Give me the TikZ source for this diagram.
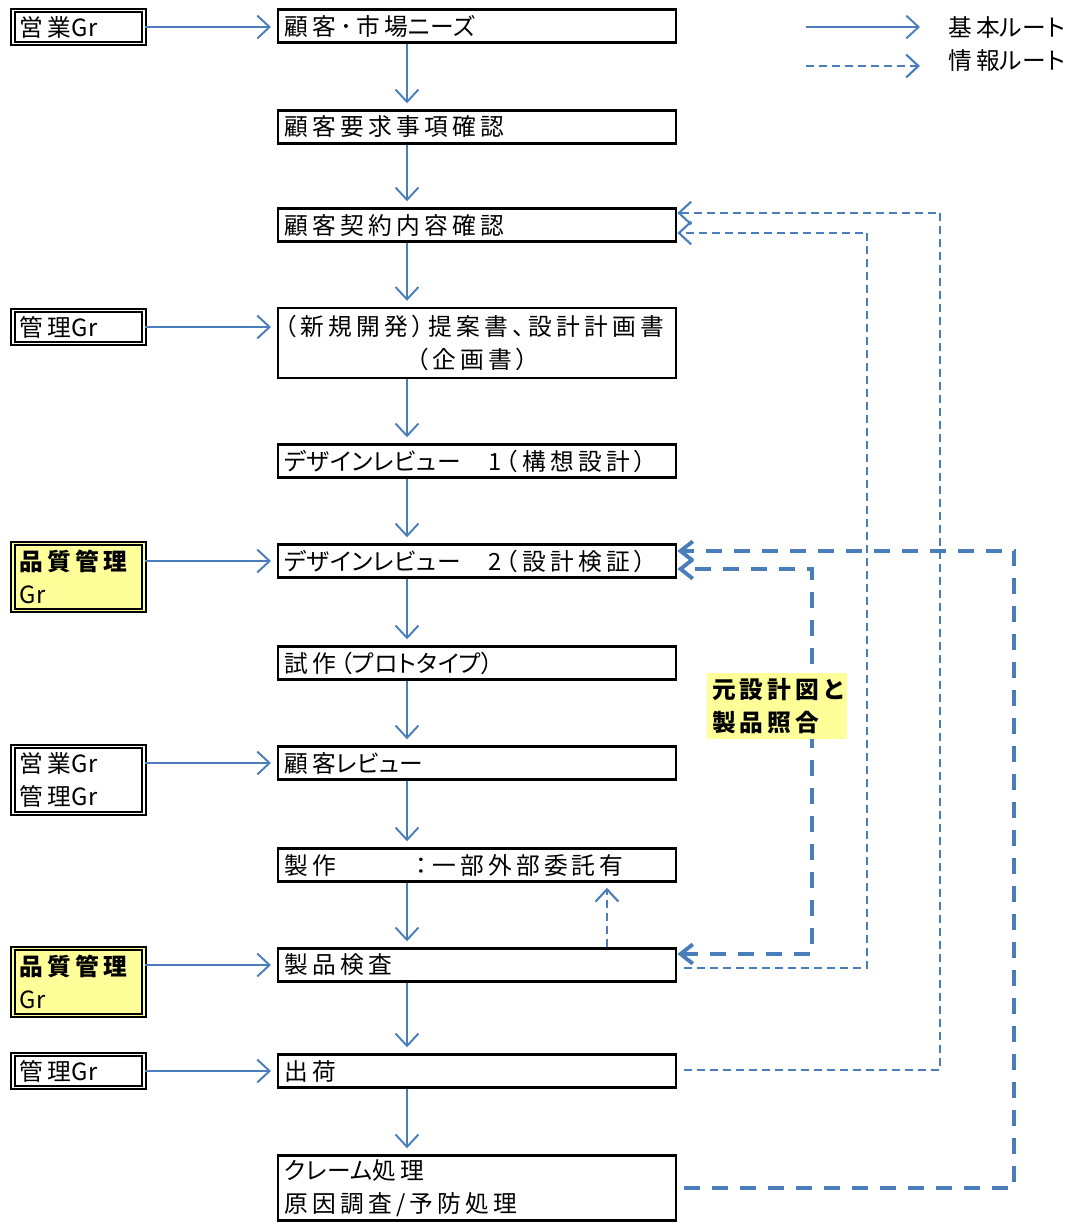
\documentclass[tikz,border=0pt]{standalone}
\usepackage{fontspec}
\setmainfont{Noto Sans CJK JP}[LetterSpace=18,RawFeature=+palt]
\usetikzlibrary{arrows.meta,calc,positioning}
\definecolor{routeblue}{RGB}{74,126,187}
\definecolor{gryellow}{RGB}{255,255,153}
\newcommand\tightjp[1]{{\addfontfeature{LetterSpace=2}#1}}

\begin{document}
\begin{tikzpicture}[
  x=0.02cm, y=-0.02cm,
  font=\fontsize{13.5}{18.5}\selectfont,
  flowbox/.style={draw, line width=1.4pt, anchor=west, text width=7.72cm, minimum height=0.66cm, inner xsep=0.12cm, inner ysep=1pt, align=left},
  grbox/.style={draw, line width=1.1pt, double=white, double distance=1.1pt, anchor=west, text width=2.34cm, minimum height=0.66cm, inner xsep=0.14cm, inner ysep=1pt, align=left},
  qabox/.style={grbox, fill=gryellow, double=gryellow, minimum height=1.34cm},
  arr/.style={draw=routeblue, line width=1.1pt, shorten >=0.12cm, -{Straight Barb[length=7pt,width=13pt]}},
  infoarr/.style={draw=routeblue, line width=1.2pt, dash pattern=on 0.16cm off 0.1cm, -{Straight Barb[length=7pt,width=13pt]}},
  bigarr/.style={draw=routeblue, line width=2.2pt, dash pattern=on 0.32cm off 0.24cm, -{Straight Barb[length=7pt,width=11pt]}},
  note/.style={fill=gryellow, font=\fontsize{13.5}{18.5}\selectfont\bfseries, text width=2.6cm, align=left, inner sep=3pt}
]
\useasboundingbox (0,0) rectangle (1082,1225);

% main flow
\node[flowbox] (needs) at (277,26) {顧客･市場\tightjp{ニーズ}};
\node[flowbox] (req) at (277,127) {顧客要求事項確認};
\node[flowbox] (contract) at (277,225) {顧客契約内容確認};
\node[flowbox, minimum height=1.4cm] (plan) at (277,343) {（新規開発）提案書、設計計画書\\\makebox[\linewidth]{（企画書）\hspace*{0.2cm}}};
\node[flowbox] (dr1) at (277,461) {\tightjp{デザインレビュー}　1（構想設計）};
\node[flowbox] (dr2) at (277,561) {\tightjp{デザインレビュー}　2（設計検証）};
\node[flowbox] (proto) at (277,663) {試作（\tightjp{プロトタイプ}）};
\node[flowbox] (review) at (277,763) {顧客\tightjp{レビュー}};
\node[flowbox] (make) at (277,865) {製作\hspace*{1.6cm}：一部外部委託有};
\node[flowbox] (insp) at (277,965) {製品検査};
\node[flowbox] (ship) at (277,1071) {出荷};
\node[flowbox, minimum height=1.3cm] (claim) at (277,1188) {\tightjp{クレーム}処理\\原因調査/予防処理};

% groups
\node[grbox] (sales) at (12,27) {営業\tightjp{Gr}};
\node[grbox] (mgmt1) at (12,327) {管理\tightjp{Gr}};
\node[qabox] (qa1) at (12,577) {\textbf{品質管理}\\\tightjp{Gr}};
\node[grbox, minimum height=1.34cm] (salesmgmt) at (12,780) {営業\tightjp{Gr}\\管理\tightjp{Gr}};
\node[qabox] (qa2) at (12,982) {\textbf{品質管理}\\\tightjp{Gr}};
\node[grbox] (mgmt2) at (12,1071) {管理\tightjp{Gr}};

\coordinate (spine) at (407,0);
\coordinate (side) at (607,0);

% basic route
\foreach \a/\b in {needs/req, req/contract, contract/plan, plan/dr1, dr1/dr2, dr2/proto, proto/review, review/make, make/insp, insp/ship, ship/claim}
  \draw[arr] (\a.south -| spine) -- (\b.north -| spine);

\draw[arr] (sales.east) -- (sales.east -| needs.west);
\draw[arr] (mgmt1.east) -- (mgmt1.east -| plan.west);
\draw[arr] (qa1.east |- dr2.west) -- (dr2.west);
\draw[arr] (salesmgmt.east |- review.west) -- (review.west);
\draw[arr] (qa2.east |- insp.west) -- (insp.west);
\draw[arr] (mgmt2.east) -- (mgmt2.east -| ship.west);

% info route
\draw[infoarr, shorten >=0.1cm] (insp.north -| side) -- (make.south -| side);
\draw[infoarr] ($(insp.east)+(7,3)$) -- ++(183,0) |- ($(contract.east)+(0,8)$);
\draw[infoarr] ($(ship.east)+(7,-1)$) -- ++(256,0) |- ($(contract.east)+(0,-12)$);
\draw[bigarr] ($(claim.east)+(7,0)$) -- ++(330,0) |- ($(dr2.east)+(0,-10)$);
\draw[bigarr, {Straight Barb[length=7pt,width=11pt]}-{Straight Barb[length=7pt,width=11pt]}] ($(insp.east)+(0,-11)$) -- ++(135,0) |- ($(dr2.east)+(0,8)$);
\node[note] (match) at (777,706) {元設計図と\\製品照合};

% legend
\coordinate (lgbasic) at (806,27);
\coordinate (lginfo) at (806,66);
\draw[arr, shorten >=0pt] (lgbasic) -- ++(114,0);
\draw[infoarr] (lginfo) -- ++(114,0);
\node[anchor=west, inner xsep=0pt] (lgbasictxt) at (948,27) {基本\tightjp{ルート}};
\node[anchor=west, inner xsep=0pt] (lginfotxt) at (948,61) {情報\tightjp{ルート}};

\end{tikzpicture}
\end{document}
